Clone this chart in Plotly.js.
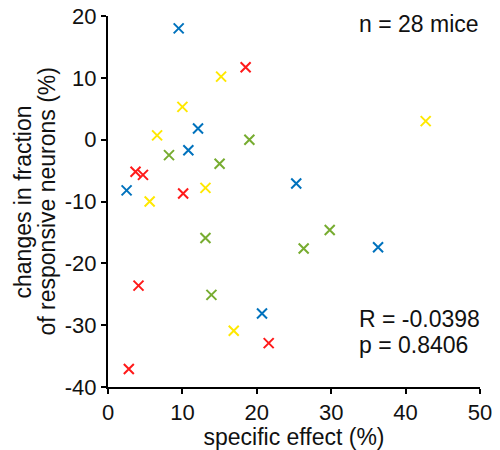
<!DOCTYPE html>
<html>
<head>
<meta charset="utf-8">
<script src="https://cdn.plot.ly/plotly-3.0.1.min.js"></script>
<style>html,body{margin:0;padding:0;background:#fff;}#chart{width:500px;height:450px;}</style>
</head>
<body>
<div id="chart"></div>
<script>
// Group 1 (blue)
const blueX = [9.5, 12.1, 10.8, 2.5, 25.3, 36.3, 20.7];
const blueY = [18.0, 1.8, -1.7, -8.2, -7.1, -17.4, -28.1];
// Group 2 (red)
const redX = [18.5, 3.7, 4.7, 10.1, 4.1, 21.6, 2.8];
const redY = [11.7, -5.2, -5.7, -8.7, -23.6, -32.9, -37.1];
// Group 3 (yellow)
const yellowX = [15.2, 10.0, 6.6, 13.1, 5.6, 16.9, 42.7];
const yellowY = [10.2, 5.3, 0.7, -7.8, -10.0, -30.9, 3.0];
// Group 4 (green)
const greenX = [19.0, 8.2, 15.0, 13.1, 13.9, 29.8, 26.3];
const greenY = [0.0, -2.5, -3.9, -15.9, -25.1, -14.6, -17.6];

const xTicks = [0, 10, 20, 30, 40, 50];
const yTicks = [-40, -30, -20, -10, 0, 10, 20];

const font = 'Liberation Sans, Arial, sans-serif';
const fs = 23;
const tc = '#111';

function grp(x, y, color) {
  return {
    x: x, y: y, type: 'scatter', mode: 'markers',
    marker: {symbol: 'x-thin', size: 10, color: color, line: {color: color, width: 2}},
    hoverinfo: 'x+y', showlegend: false
  };
}

const data = [
  grp(blueX, blueY, '#0072BD'),
  grp(redX, redY, '#FF1A1A'),
  grp(yellowX, yellowY, '#FFE800'),
  grp(greenX, greenY, '#77AC30')
];

const txt = (s) => ({family: font, size: s || fs, color: tc});

const layout = {
  width: 500, height: 450,
  margin: {l: 108, r: 20, t: 16, b: 63},
  paper_bgcolor: '#fff', plot_bgcolor: '#fff',
  font: {family: font, size: fs, color: tc},
  showlegend: false,
  xaxis: {
    range: [0, 50], tickvals: xTicks, ticktext: xTicks.map(String),
    showgrid: false, zeroline: false, showline: true, linecolor: '#000', linewidth: 2,
    ticks: 'outside', ticklen: 5, tickwidth: 2, tickcolor: '#000',
    tickfont: txt(22),
    title: {text: 'specific effect (%)', font: txt(23), standoff: 4}
  },
  yaxis: {
    range: [-40, 20], tickvals: yTicks, ticktext: yTicks.map(String),
    showgrid: false, zeroline: false, showline: true, linecolor: '#000', linewidth: 2,
    ticks: 'outside', ticklen: 5, tickwidth: 2, tickcolor: '#000',
    tickfont: txt(22),
    title: {text: ''}
  },
  annotations: [
    {xref: 'paper', yref: 'paper', x: -0.2285, y: 0.5, xanchor: 'center', yanchor: 'middle',
     textangle: -90, text: 'changes in fraction', showarrow: false, font: txt()},
    {xref: 'paper', yref: 'paper', x: -0.164, y: 0.5, xanchor: 'center', yanchor: 'middle',
     textangle: -90, text: 'of responsive neurons (%)', showarrow: false, font: txt()},
    {xref: 'paper', yref: 'paper', x: 0.67, y: 0.9777, xanchor: 'left', yanchor: 'middle',
     text: 'n = 28 mice', showarrow: false, font: txt()},
    {xref: 'paper', yref: 'paper', x: 0.67, y: 0.183, xanchor: 'left', yanchor: 'middle',
     text: 'R = -0.0398', showarrow: false, font: txt()},
    {xref: 'paper', yref: 'paper', x: 0.67, y: 0.1145, xanchor: 'left', yanchor: 'middle',
     text: 'p = 0.8406', showarrow: false, font: txt()}
  ]
};

Plotly.newPlot('chart', data, layout, {displayModeBar: false, staticPlot: true});
</script>
</body>
</html>
